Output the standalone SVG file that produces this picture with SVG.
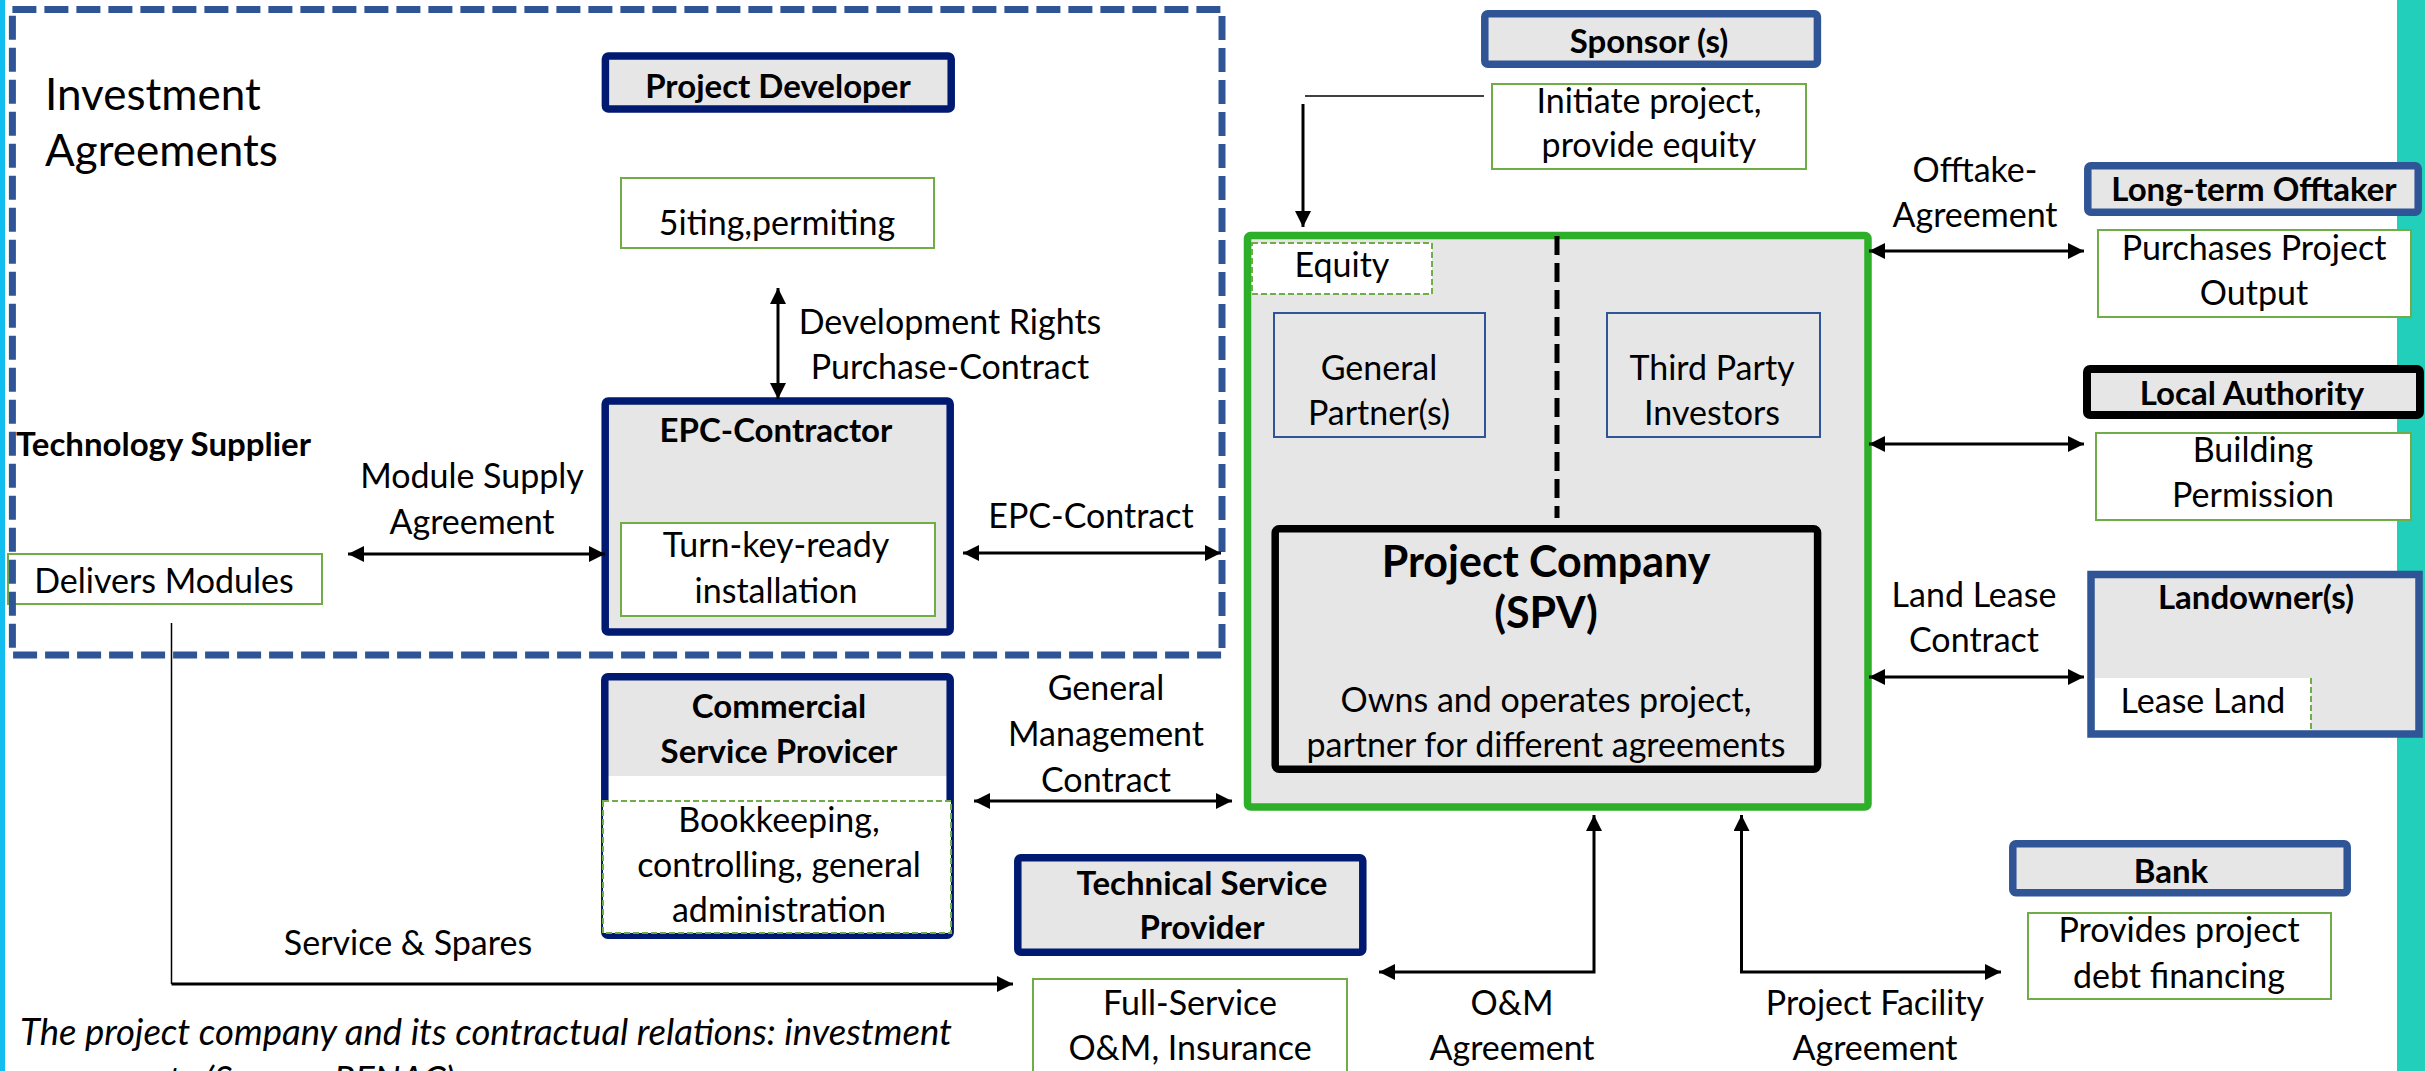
<svg xmlns="http://www.w3.org/2000/svg" width="2425" height="1071" viewBox="0 0 2425 1071">
  <defs>
    <style>
      text { font-family: Lato, "Liberation Sans", sans-serif; font-size: 34px; fill: #000; text-anchor: middle; }
      .b { font-weight: bold; font-size: 33px; }
      .big { font-weight: bold; font-size: 43px; }
      .l { text-anchor: start; }
      .cap { font-style: italic; font-size: 36.5px; }
      .navy { fill: #E6E6E6; stroke: #001A72; stroke-width: 7.5; }
      .blue { fill: #E6E6E6; stroke: #2F5597; stroke-width: 7.5; }
      .note { fill: #FFFFFF; stroke: #70AD47; stroke-width: 2; }
      .dnote { fill: #FFFFFF; stroke: #70AD47; stroke-width: 2; stroke-dasharray: 6 3; }
      .thin { fill: none; stroke: #2F5597; stroke-width: 2; }
      .conn { fill: none; stroke: #000; stroke-width: 3; }
      .hair { fill: none; stroke: #000; stroke-width: 1.5; }
    </style>
    <marker id="ah" viewBox="0 0 16 16" refX="16" refY="8" markerWidth="16" markerHeight="16" markerUnits="userSpaceOnUse" orient="auto-start-reverse">
      <path d="M0,0 L16,8 L0,16 z" fill="#000"/>
    </marker>
  </defs>

  <!-- page background and side bands -->
  <rect x="0" y="0" width="2425" height="1071" fill="#FFFFFF"/>
  <rect x="0" y="0" width="5" height="1071" fill="#12BEF0"/>
  <rect x="2397" y="0" width="28" height="1071" fill="#22CFBB"/>

  <!-- investment agreements frame -->
  <g id="investment-agreements">
    <text class="l" x="45" y="110" style="font-size:44px">Investment</text>
    <text class="l" x="45" y="166" style="font-size:44px">Agreements</text>
  </g>

  <g id="project-developer">
    <rect class="navy" x="605.4" y="56" width="345.8" height="53" rx="3"/>
    <text class="b" x="778" y="98">Project Developer</text>
  </g>

  <g id="siting">
    <rect class="note" x="621" y="178" width="313" height="70"/>
    <text x="777" y="235">5iting,permiting</text>
  </g>

  <g id="epc-contractor">
    <rect class="navy" x="605.2" y="401" width="345" height="231" rx="3"/>
    <text class="b" x="776" y="442">EPC-Contractor</text>
    <rect class="note" x="621" y="523" width="314" height="93"/>
    <text x="776" y="557">Turn-key-ready</text>
    <text x="776" y="603">installation</text>
  </g>

  <g id="technology-supplier">
    <text class="b l" x="16" y="456">Technology Supplier</text>
    <rect class="note" x="8" y="554" width="314" height="50"/>
    <text x="164" y="593">Delivers Modules</text>
  </g>

  <rect id="frame" x="12.4" y="9.5" width="1209.6" height="645.5" fill="none" stroke="#2F5597" stroke-width="7" stroke-dasharray="24 8"/>

  <g id="commercial-service-provider">
    <rect x="605" y="677" width="345" height="258" fill="#FFFFFF"/>
    <rect x="605" y="677" width="345" height="99" fill="#E6E6E6"/>
    <rect x="604.8" y="676.8" width="345.4" height="258.4" rx="3" fill="none" stroke="#001A72" stroke-width="7.5"/>
    <text class="b" x="779" y="718">Commercial</text>
    <text class="b" x="779" y="763">Service Provicer</text>
    <rect class="dnote" x="603" y="801" width="348" height="132"/>
    <text x="779" y="832">Bookkeeping,</text>
    <text x="779" y="877">controlling, general</text>
    <text x="779" y="922">administration</text>
  </g>

  <g id="technical-service-provider">
    <rect class="navy" x="1017.8" y="857.8" width="345" height="94.4" rx="3"/>
    <text class="b" x="1202" y="895">Technical Service</text>
    <text class="b" x="1202" y="939">Provider</text>
    <rect class="note" x="1033" y="979" width="314" height="120"/>
    <text x="1190" y="1015">Full-Service</text>
    <text x="1190" y="1060">O&amp;M, Insurance</text>
  </g>

  <g id="sponsor">
    <rect class="blue" x="1484.8" y="13.8" width="332.6" height="50.4" rx="3"/>
    <text class="b" x="1649" y="53">Sponsor (s)</text>
    <rect class="note" x="1492" y="84" width="314" height="85"/>
    <text x="1649" y="113">Initiate project,</text>
    <text x="1649" y="157">provide equity</text>
  </g>

  <g id="project-company">
    <rect x="1247.5" y="235.5" width="620.5" height="571.4" rx="3" fill="#E6E6E6" stroke="#2EAF2A" stroke-width="7.5"/>
    <rect class="dnote" x="1252" y="243" width="180" height="51"/>
    <text x="1342" y="277">Equity</text>
    <line x1="1557" y1="236" x2="1557" y2="518" stroke="#000" stroke-width="5" stroke-dasharray="19 8"/>
    <rect class="thin" x="1274" y="313" width="211" height="124"/>
    <text x="1379" y="380">General</text>
    <text x="1379" y="425">Partner(s)</text>
    <rect class="thin" x="1607" y="313" width="213" height="124"/>
    <text x="1712" y="380">Third Party</text>
    <text x="1712" y="425">Investors</text>
    <rect x="1275.2" y="528.8" width="542.4" height="240.4" rx="4" fill="#E6E6E6" stroke="#000" stroke-width="7.5"/>
    <text class="big" x="1546" y="577">Project Company</text>
    <text class="big" x="1546" y="628">(SPV)</text>
    <text x="1546" y="712">Owns and operates project,</text>
    <text x="1546" y="757">partner for different agreements</text>
  </g>

  <g id="offtaker">
    <rect class="blue" x="2087.8" y="165.8" width="330.4" height="46.4" rx="3"/>
    <text class="b" x="2254" y="201">Long-term Offtaker</text>
    <rect class="note" x="2098" y="230" width="313" height="87"/>
    <text x="2254" y="260">Purchases Project</text>
    <text x="2254" y="305">Output</text>
  </g>

  <g id="local-authority">
    <rect x="2087" y="369" width="333" height="46" rx="3" fill="#E6E6E6" stroke="#000" stroke-width="8"/>
    <text class="b" x="2252" y="405">Local Authority</text>
    <rect class="note" x="2096" y="433" width="315" height="87"/>
    <text x="2253" y="462">Building</text>
    <text x="2253" y="507">Permission</text>
  </g>

  <g id="landowner">
    <rect class="blue" x="2091" y="574.5" width="328" height="159.5"/>
    <text class="b" x="2256" y="609">Landowner(s)</text>
    <rect x="2095" y="678" width="216" height="52" fill="#FFFFFF"/>
    <line x1="2311" y1="678" x2="2311" y2="730" stroke="#70AD47" stroke-width="2" stroke-dasharray="6 3"/>
    <text x="2203" y="713">Lease Land</text>
  </g>

  <g id="bank">
    <rect class="blue" x="2012.8" y="843.8" width="334.4" height="49" rx="3"/>
    <text class="b" x="2171" y="883">Bank</text>
    <rect class="note" x="2028" y="913" width="303" height="86"/>
    <text x="2179" y="942">Provides project</text>
    <text x="2179" y="988">debt financing</text>
  </g>

  <!-- contract relations -->
  <g id="connectors">
    <line class="conn" x1="778" y1="288" x2="778" y2="399" marker-start="url(#ah)" marker-end="url(#ah)"/>
    <line class="conn" x1="348" y1="554" x2="605" y2="554" marker-start="url(#ah)" marker-end="url(#ah)"/>
    <line class="conn" x1="963" y1="553" x2="1221" y2="553" marker-start="url(#ah)" marker-end="url(#ah)"/>
    <line class="conn" x1="974" y1="801" x2="1232" y2="801" marker-start="url(#ah)" marker-end="url(#ah)"/>
    <line class="conn" x1="1869" y1="251" x2="2084" y2="251" marker-start="url(#ah)" marker-end="url(#ah)"/>
    <line class="conn" x1="1869" y1="444" x2="2084" y2="444" marker-start="url(#ah)" marker-end="url(#ah)"/>
    <line class="conn" x1="1869" y1="677" x2="2084" y2="677" marker-start="url(#ah)" marker-end="url(#ah)"/>
    <line class="hair" x1="1305" y1="96" x2="1484" y2="96"/>
    <line class="conn" x1="1303" y1="104" x2="1303" y2="227" marker-end="url(#ah)"/>
    <line class="hair" x1="171.5" y1="623" x2="171.5" y2="984"/>
    <line class="conn" x1="171.5" y1="984" x2="1013" y2="984" marker-end="url(#ah)"/>
    <polyline class="conn" points="1379,972 1594,972 1594,815" marker-start="url(#ah)" marker-end="url(#ah)"/>
    <polyline class="conn" points="1741.5,815 1741.5,972 2001,972" marker-start="url(#ah)" marker-end="url(#ah)"/>
  </g>

  <!-- connector labels -->
  <g id="labels">
    <text x="950" y="334">Development Rights</text>
    <text x="950" y="379">Purchase-Contract</text>
    <text x="472" y="488">Module Supply</text>
    <text x="472" y="534">Agreement</text>
    <text x="1091" y="528">EPC-Contract</text>
    <text x="1106" y="700">General</text>
    <text x="1106" y="746">Management</text>
    <text x="1106" y="792">Contract</text>
    <text x="408" y="955">Service &amp; Spares</text>
    <text x="1512" y="1015">O&amp;M</text>
    <text x="1512" y="1060">Agreement</text>
    <text x="1875" y="1015">Project Facility</text>
    <text x="1875" y="1060">Agreement</text>
    <text x="1975" y="182">Offtake-</text>
    <text x="1975" y="227">Agreement</text>
    <text x="1974" y="607">Land Lease</text>
    <text x="1974" y="652">Contract</text>
  </g>

  <g id="caption">
    <text class="l cap" x="20" y="1045">The project company and its contractual relations: investment</text>
    <text class="l cap" x="20" y="1093">agreements (Source: RENAC)</text>
  </g>
</svg>
